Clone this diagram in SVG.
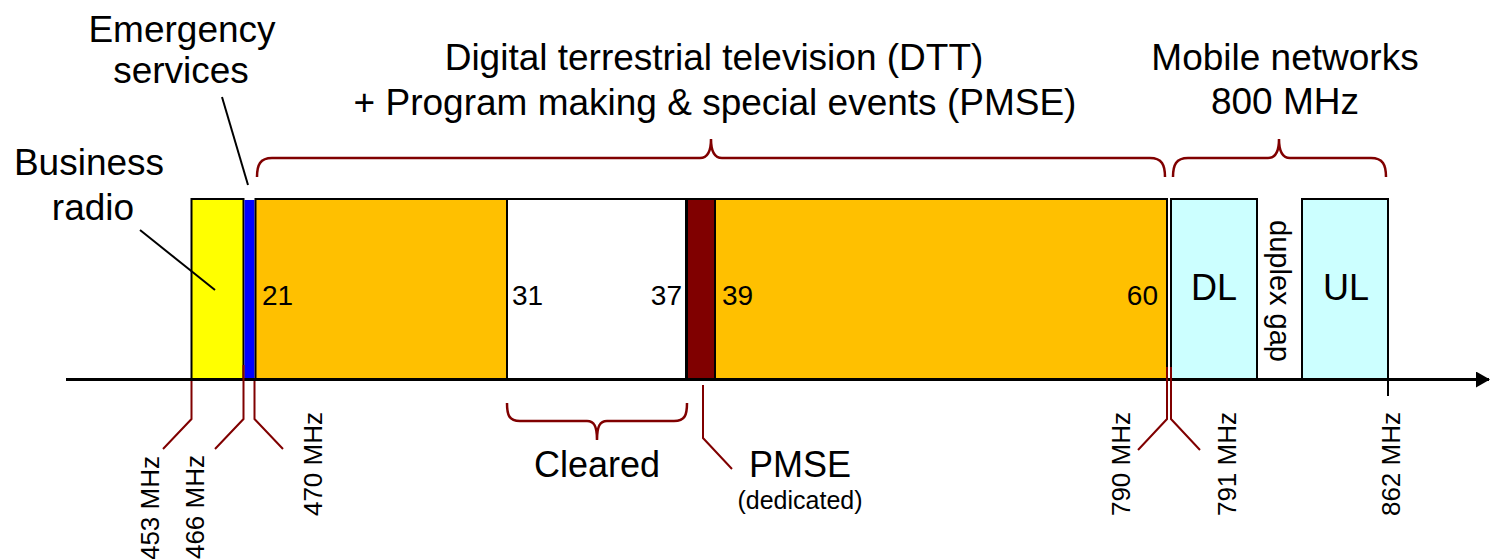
<svg xmlns="http://www.w3.org/2000/svg" width="1490" height="559" viewBox="0 0 1490 559">
  <style>
    text { font-family: "Liberation Sans", Arial, sans-serif; fill: #000; }
    .big { font-size: 37px; }
    .ch { font-size: 28px; }
    .freq { font-size: 26px; }
    .band { stroke: #000; stroke-width: 2; }
    .brace { fill: none; stroke: #800000; stroke-width: 2.5; }
    .lead { fill: none; stroke: #800000; stroke-width: 2; }
    .callout { fill: none; stroke: #000; stroke-width: 2; }
  </style>
  <defs>
    <marker id="arrow" markerWidth="14" markerHeight="16" refX="13" refY="8" orient="auto" markerUnits="userSpaceOnUse">
      <path d="M0,0 L14,8 L0,16 Z" fill="#000"/>
    </marker>
  </defs>

  <rect width="1490" height="559" fill="#fff"/>

  <!-- spectrum bands -->
  <g id="business-radio">
    <rect class="band" x="191.5" y="199" width="52" height="180" fill="#FFFF00"/>
  </g>
  <g id="emergency">
    <rect x="244.5" y="200" width="10" height="179" fill="#0000FF"/>
  </g>
  <g id="dtt-lower">
    <rect class="band" x="255.5" y="199" width="251.5" height="180" fill="#FFC000"/>
    <text class="ch" x="262" y="305">21</text>
  </g>
  <g id="cleared">
    <rect class="band" x="507" y="199" width="179" height="180" fill="#FFFFFF"/>
    <text class="ch" x="512" y="305">31</text>
    <text class="ch" x="682" y="305" text-anchor="end">37</text>
  </g>
  <g id="pmse-dedicated">
    <rect class="band" x="687" y="199" width="28" height="180" fill="#800000"/>
  </g>
  <g id="dtt-upper">
    <rect class="band" x="715" y="199" width="452" height="180" fill="#FFC000"/>
    <text class="ch" x="722" y="305">39</text>
    <text class="ch" x="1158" y="305" text-anchor="end">60</text>
  </g>
  <g id="downlink">
    <rect class="band" x="1171" y="199" width="86" height="180" fill="#CCFFFF"/>
    <text x="1214" y="300" font-size="36" text-anchor="middle">DL</text>
  </g>
  <g id="duplex-gap">
    <text transform="translate(1270,291) rotate(90)" font-size="29" text-anchor="middle">duplex gap</text>
  </g>
  <g id="uplink">
    <rect class="band" x="1302" y="199" width="86" height="180" fill="#CCFFFF"/>
    <text x="1346" y="300" font-size="36" text-anchor="middle">UL</text>
  </g>

  <!-- frequency axis, braces and leader lines -->
  <g id="connectors">
    <line x1="66" y1="379.5" x2="1489" y2="379.5" stroke="#000" stroke-width="3" marker-end="url(#arrow)"/>
    <line x1="1388" y1="379" x2="1388" y2="396" stroke="#000" stroke-width="2"/>

    <path class="brace" d="M257,177 C257,165 260,158 272,158 H700 C707,158 711,152 711,139 C711,152 715,158 722,158 H1150 C1162,158 1165,165 1165,177"/>
    <path class="brace" d="M1173,177 C1173,165 1176,158 1188,158 H1268 C1275,158 1279,152 1279,139 C1279,152 1283,158 1290,158 H1371 C1383,158 1386,165 1386,177"/>
    <path class="brace" d="M507,403 C507,415 509,421 520,421 H587 C594,421 597,426 597,440 C597,426 600,421 607,421 H674 C685,421 687,415 687,403"/>

    <path class="lead" d="M191.5,381 V419 L163,449"/>
    <path class="lead" d="M243.5,365 V419 L215,449"/>
    <path class="lead" d="M254.5,381 V419 L283,449"/>
    <path class="lead" d="M1167,367 V419 L1138,450"/>
    <path class="lead" d="M1171,367 V419 L1200,450"/>
    <path class="lead" d="M703,385 V438 L732,469"/>

    <line class="callout" x1="222" y1="97" x2="248" y2="185"/>
    <line class="callout" x1="140" y1="230" x2="215" y2="290"/>
  </g>

  <!-- labels -->
  <g id="labels">
    <text class="big" x="182" y="42" text-anchor="middle">Emergency</text>
    <text class="big" x="181" y="83" text-anchor="middle">services</text>
    <text class="big" x="89" y="175" text-anchor="middle">Business</text>
    <text class="big" x="93" y="220" text-anchor="middle">radio</text>
    <text class="big" x="714" y="70" text-anchor="middle">Digital terrestrial television (DTT)</text>
    <text class="big" x="715" y="115" text-anchor="middle">+ Program making &amp; special events (PMSE)</text>
    <text class="big" x="1285" y="70" text-anchor="middle">Mobile networks</text>
    <text class="big" x="1285" y="114" text-anchor="middle">800 MHz</text>
    <text x="597" y="477" font-size="36" text-anchor="middle">Cleared</text>
    <text x="800" y="477" font-size="36" text-anchor="middle">PMSE</text>
    <text x="800" y="509" font-size="25" text-anchor="middle">(dedicated)</text>
  </g>

  <g id="frequencies">
    <text class="freq" transform="translate(159,456) rotate(-90)" text-anchor="end">453 MHz</text>
    <text class="freq" transform="translate(204,455) rotate(-90)" text-anchor="end">466 MHz</text>
    <text class="freq" transform="translate(322,412) rotate(-90)" text-anchor="end">470 MHz</text>
    <text class="freq" transform="translate(1130,412) rotate(-90)" text-anchor="end">790 MHz</text>
    <text class="freq" transform="translate(1236,412) rotate(-90)" text-anchor="end">791 MHz</text>
    <text class="freq" transform="translate(1400,412) rotate(-90)" text-anchor="end">862 MHz</text>
  </g>
</svg>
